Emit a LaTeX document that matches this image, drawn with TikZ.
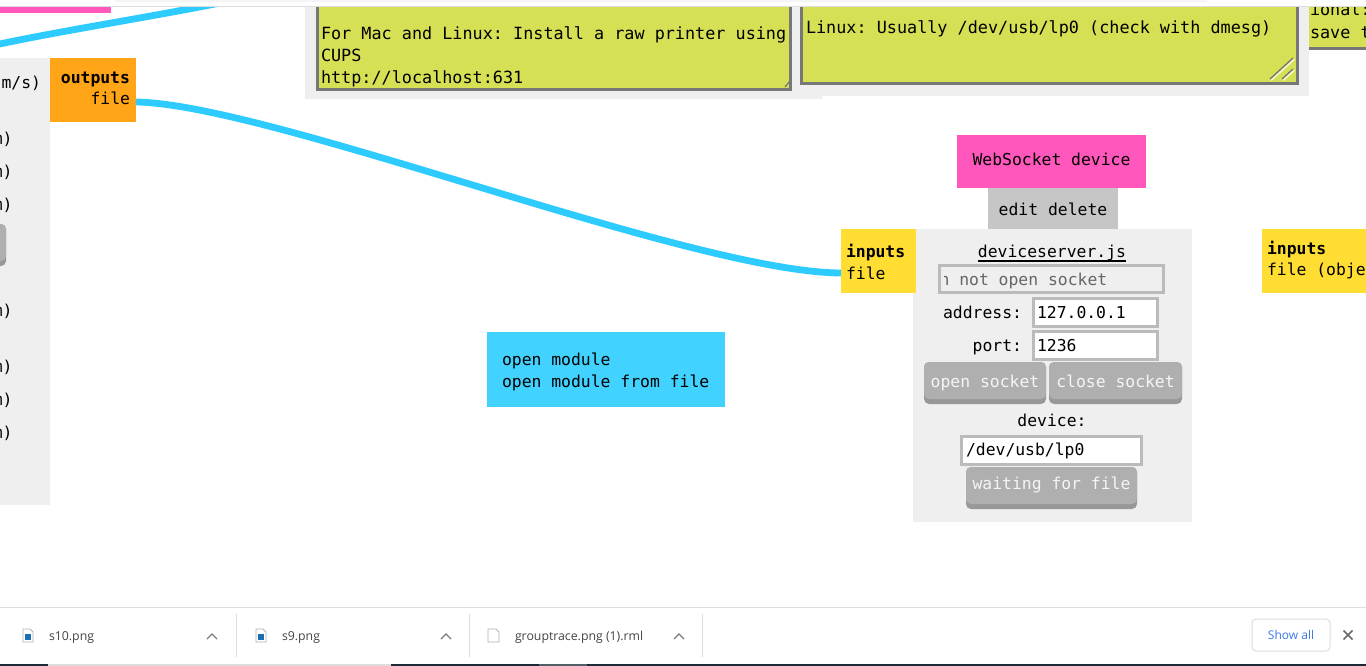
\documentclass[tikz,border=0pt]{standalone}
\usepackage{fontspec}
\setmainfont{Open Sans}
\setmonofont{DejaVu Sans Mono}
\definecolor{panelgrey}{HTML}{EFEFEF}
\definecolor{notegreen}{HTML}{D6E054}
\definecolor{noteedge}{HTML}{777777}
\definecolor{wirecyan}{HTML}{2ECBFF}
\definecolor{hotpink}{HTML}{FF57BB}
\definecolor{amber}{HTML}{FFA517}
\definecolor{sun}{HTML}{FFDD33}
\definecolor{sky}{HTML}{42D2FF}
\definecolor{midgrey}{HTML}{C6C6C6}
\definecolor{btn}{HTML}{AFAFAF}
\definecolor{btnlow}{HTML}{989898}
\definecolor{fieldedge}{HTML}{BBBBBB}
\definecolor{chromeline}{HTML}{DDDDDD}
\definecolor{chrometext}{HTML}{444444}
\definecolor{linkblue}{HTML}{3B78E7}
\definecolor{darkbar}{HTML}{1B2A36}
\definecolor{imgblue}{HTML}{1C6FB5}
\newcommand{\boxat}[6][]{%
  \pgfmathsetmacro{\bw}{#5-#3}\pgfmathsetmacro{\bh}{#6-#4}%
  \node[boxbase,#1,minimum width=\bw pt,minimum height=\bh pt] (#2) at ({(#3+#5)/2},{(#4+#6)/2})}
\newcommand{\btnat}[5]{%
  \pgfmathsetmacro{\bw}{#4-#2}\pgfmathsetmacro{\bh}{#5-#3}%
  \node[boxbase,fill=btnlow,rounded corners=5pt,minimum width=\bw pt,minimum height=\bh pt] (#1low) at ({(#2+#4)/2},{(#3+#5)/2}) {};%
  \pgfmathsetmacro{\bh}{#5-#3-5}%
  \node[boxbase,fill=btn,rounded corners=5pt,text=white!96!black,minimum width=\bw pt,minimum height=\bh pt] (#1) at ({(#2+#4)/2},{(#3+#5-5)/2})}
\newcommand{\mono}{\ttfamily\fontsize{16.4}{22}\selectfont}
\newcommand{\monolarge}{\ttfamily\fontsize{16.8}{22}\selectfont}
\newcommand{\ui}{\rmfamily\fontsize{12.3}{15}\selectfont}
\newcommand{\lowered}[2]{\raisebox{#1pt}[0pt][0pt]{#2}}
\tikzset{
  boxbase/.style={inner sep=0pt,outer sep=0pt,draw=none,font=\mono},
  txt/.style={inner sep=0pt,outer sep=0pt,anchor=base west,font=\mono,text=black},
  txtr/.style={txt,anchor=base east},
  txtc/.style={txt,anchor=base},
  notetxt/.style={txt,font=\monolarge},
  bold/.style={font=\mono\bfseries},
  wire/.style={draw=wirecyan,line width=6.8pt},
  field/.style={fill=white,draw=fieldedge,line width=3pt},
  handle/.style={draw=noteedge,line width=1.3pt},
  handlelight/.style={draw=white!85!notegreen,line width=1.3pt},
  chrome/.style={inner sep=0pt,outer sep=0pt,anchor=base west,font=\ui,text=chrometext},
  sep/.style={draw=chromeline,line width=1pt},
  chev/.style={draw=chrometext!70,line width=1.2pt},
  fileicon/.style={draw=gray!60,fill=white,line width=.8pt},
}
\begin{document}
\begin{tikzpicture}[x=1pt,y=-1pt]
\useasboundingbox (0,0) rectangle (1366,666);
\fill[white] (0,0) rectangle (1366,666);
% left panel
\boxat[fill=panelgrey]{leftpanel}{-10}{58}{50}{505}{};
\node[txtr] (um) at (41,89) {m/s)};
\foreach \yy/\nm in {145/a,178/b,211/c,316/d,372/e,405/f,438/g}
  \node[txtr] (par\nm) at (12.5,\yy) {m)};
\btnat{leftbtn}{-40}{224}{6}{266}{};
% orange outputs
\boxat[fill=amber]{outbox}{50}{58}{136}{122}{};
\node[txtr,bold] (outt) at (130,84) {outputs};
\node[txtr] (outf) at (130,105) {file};
% note panel 1
\boxat[fill=panelgrey]{pan1}{305}{-5}{822}{99}{};
\boxat[fill=notegreen,draw=noteedge,line width=3pt]{note1}{317}{-5}{790}{90}{};
\node[notetxt] (n1a) at (321,40) {For Mac and Linux: Install a raw printer using};
\node[notetxt] (n1b) at (321,62) {CUPS};
\node[notetxt] (n1c) at (321,84) {http://localhost:631};
\coordinate (h1a) at (785,87);\coordinate (h1b) at (790,81);
\draw[handle] (h1a) -- (h1b);
% note panel 2
\boxat[fill=panelgrey]{pan2}{792}{-5}{1309}{96}{};
\boxat[fill=notegreen,draw=noteedge,line width=3pt]{note2}{801}{-5}{1297}{84}{};
\node[notetxt] (n2a) at (806,34) {Linux: Usually /dev/usb/lp0 (check with dmesg)};
\coordinate (h2a) at (1270,79);\coordinate (h2b) at (1293,58);
\coordinate (h2c) at (1282,79);\coordinate (h2d) at (1293,69);
\draw[handlelight] ([shift={(1.3,1.3)}]h2a) -- ([shift={(1.3,1.3)}]h2b);
\draw[handlelight] ([shift={(1.3,1.3)}]h2c) -- ([shift={(1.3,1.3)}]h2d);
\draw[handle] (h2a) -- (h2b);
\draw[handle] (h2c) -- (h2d);
% note 3
\boxat[fill=notegreen]{note3}{1309}{-5}{1376}{47}{};
\boxat[fill=noteedge]{note3edge}{1309}{47}{1376}{50}{};
\node[notetxt] (n3a) at (1310,16) {ional:};
\node[notetxt] (n3b) at (1310,39) {save t};
% top left wire
\coordinate (tw1) at (-5,45);\coordinate (tw2) at (220,3);
\draw[wire] (tw1) .. controls (60,31) and (150,17) .. (tw2);
% websocket module
\boxat[fill=hotpink]{ws}{957}{135}{1146}{188}{\lowered{-4.5}{WebSocket device}};
\boxat[fill=midgrey]{edit}{988}{188}{1118}{229}{\lowered{-7}{edit delete}};
\boxat[fill=panelgrey]{devpanel}{913}{229}{1192}{522}{};
\boxat[fill=sun]{inbox}{841}{229}{916}{293}{};
\node[txt,bold] (int) at (846,257) {inputs};
\node[txt] (inf) at (846,279) {file};
\node[txtc] (ds) at (1052,257) {deviceserver.js};
\draw[black,line width=2pt] ([yshift=-4pt]ds.base west) -- ([yshift=-4pt]ds.base east);
\boxat[fill=panelgrey,draw=fieldedge,line width=3pt]{sockfield}{939.5}{265}{1163.5}{292}{};
\begin{scope}
\clip (944.5,266.5) rectangle (1162,290.5);
\node[txt,text=black!60] (sock) at (939.5,285) {n not open socket};
\end{scope}
\node[txtr] (addr) at (1022,318) {address:};
\boxat[field]{addrf}{1033.5}{298}{1157.5}{326}{};
\node[txt] (addrv) at (1037,318) {127.0.0.1};
\node[txtr] (port) at (1022,351) {port:};
\boxat[field]{portf}{1033.5}{331}{1157.5}{359}{};
\node[txt] (portv) at (1037,351) {1236};
\btnat{opens}{924}{362}{1046}{404}{\lowered{-6.5}{open socket}};
\btnat{closes}{1049}{362}{1182}{404}{\lowered{-6.5}{close socket}};
\node[txtc] (dev) at (1052,426) {device:};
\boxat[field]{devf}{961.5}{436}{1141}{464}{};
\node[txt] (devv) at (966,455) {/dev/usb/lp0};
\btnat{waitb}{966}{467}{1137}{509}{\lowered{-4}{waiting for file}};
% main wire
\draw[wire] (outbox.east|-0,102) .. controls (270,104) and (690,272) .. (inbox.west|-0,273);
% open module
\boxat[fill=sky]{openm}{487}{332}{725}{407}{};
\node[txt] (om1) at (502,365) {open module};
\node[txt] (om2) at (502,387) {open module from file};
% right inputs
\boxat[fill=sun]{inbox2}{1262}{229}{1376}{293}{};
\node[txt,bold] (int2) at (1267,254) {inputs};
\node[txt] (inf2) at (1267,275) {file (obje};
% top chrome
\fill[white] (0,-1) rectangle (1366,6);
\fill[black!4] (115,-1) rectangle (1207,2);
\draw[chromeline,line width=1pt] (-1,6.5) -- (1367,6.5);
\boxat[fill=hotpink]{pinkbar}{-5}{7}{111}{13}{};
% bottom chrome
\fill[white] (0,607) rectangle (1366,666);
\draw[chromeline,line width=1pt] (-1,607.5) -- (1367,607.5);
\fill[darkbar] (-1,663.5) rectangle (1367,667);
\fill[chromeline] (48,663.5) rectangle (391,667);
\fill[darkbar!75] (539,663.5) rectangle (587,667);
\foreach \xx/\nm in {23/ia,256/ib}{
  \draw[fileicon] (\xx,629) -- ++(7,0) -- ++(3,3) -- ++(0,10) -- ++(-10,0) -- cycle;
  \fill[imgblue] (\xx+2,634) rectangle ++(6,6);
}
\draw[fileicon] (488,629) -- ++(8,0) -- ++(3,3) -- ++(0,10) -- ++(-11,0) -- cycle;
\node[chrome] (f1) at (49,640) {s10.png};
\node[chrome] (f2) at (282,640) {s9.png};
\node[chrome] (f3) at (515,640) {grouptrace.png (1).rml};
\foreach \xx in {212,446,679}
  \draw[chev] (\xx-5,639) -- (\xx,634) -- (\xx+5,639);
\foreach \xx in {236,469,702}
  \draw[sep] (\xx,614) -- (\xx,657);
\boxat[draw=chromeline,fill=white,line width=1pt,rounded corners=4pt,font=\ui\fontsize{12}{14}\selectfont,text=linkblue]{showall}{1252}{619}{1330}{651}{Show all};
\draw[chrometext!80,line width=1.6pt] (1343.5,630.5) -- (1352.5,639.5) (1352.5,630.5) -- (1343.5,639.5);
\end{tikzpicture}
\end{document}
